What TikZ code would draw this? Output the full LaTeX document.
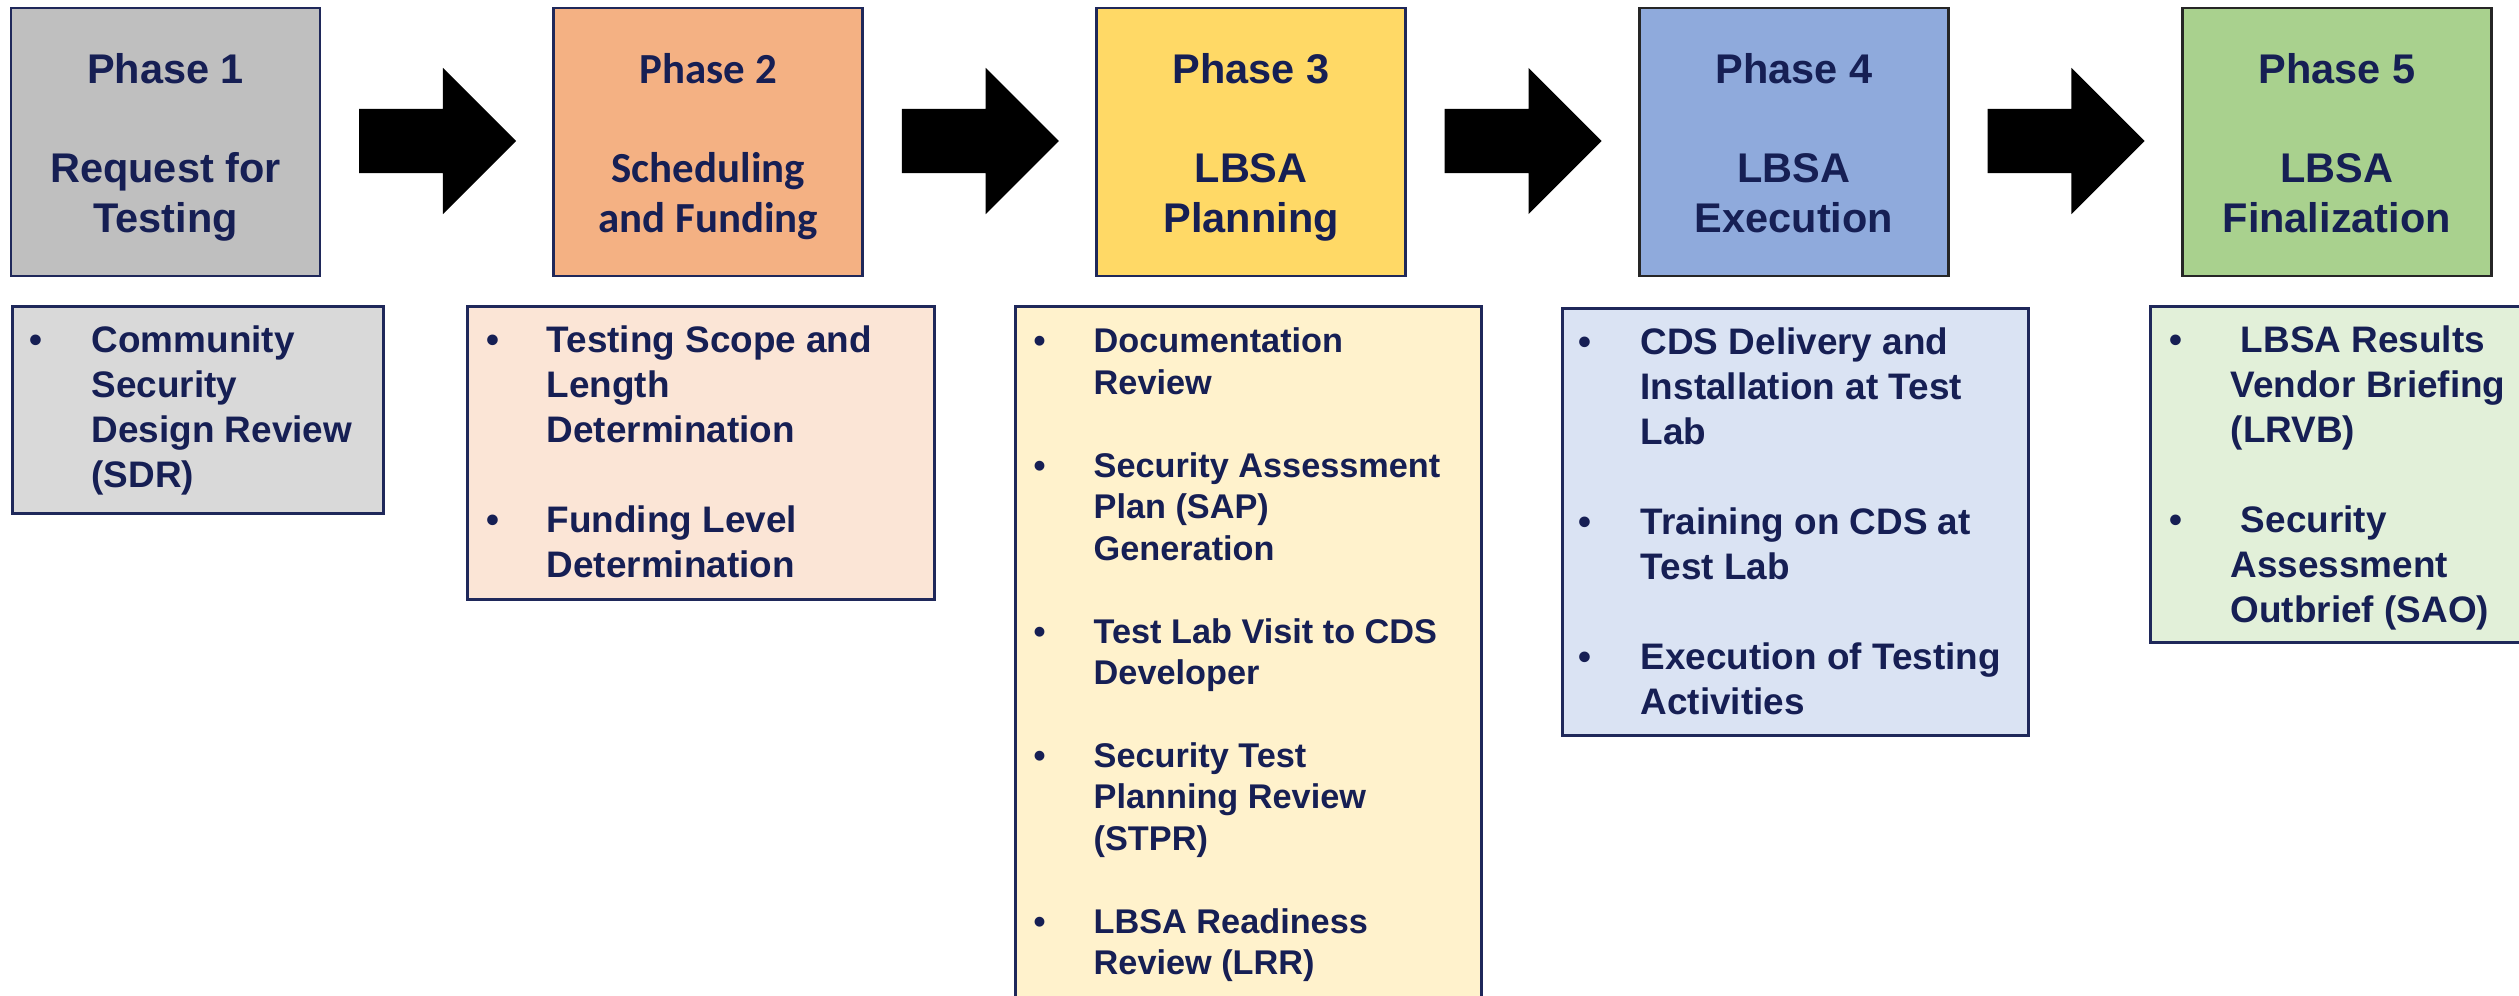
\documentclass[tikz,border=0pt]{standalone}
\usepackage{fontspec}
\setmainfont{Liberation Sans}
\newfontfamily\calfont{Carlito}
\usetikzlibrary{positioning,shapes.arrows}

\definecolor{navytext}{RGB}{22,31,84}
\definecolor{boxline}{RGB}{31,40,90}
\definecolor{grayA}{RGB}{191,191,191}
\definecolor{grayB}{RGB}{217,217,217}
\definecolor{orangeA}{RGB}{244,177,131}
\definecolor{orangeB}{RGB}{251,229,214}
\definecolor{yellowA}{RGB}{255,217,102}
\definecolor{yellowB}{RGB}{255,242,204}
\definecolor{blueA}{RGB}{143,170,220}
\definecolor{blueB}{RGB}{218,227,243}
\definecolor{greenA}{RGB}{169,209,142}
\definecolor{greenB}{RGB}{226,240,217}

% title of a phase box: number, empty line, two lines of name
\newcommand{\phasetext}[3]{\rule{0pt}{11.7pt}#1\\[14.2pt]#2\\#3\rule[-2.6pt]{0pt}{2.6pt}}

\tikzset{
  phase/.style={draw=boxline, line width=0.8pt, minimum width=3.09cm, minimum height=2.68cm,
    align=center, text=navytext, font=\fontsize{11.8}{14.2}\selectfont\bfseries},
  detail/.style={draw=boxline, line width=0.8pt, anchor=north west, minimum width=4.66cm},
  items/.style={anchor=north west, inner sep=0pt, text=navytext,
    font=\fontsize{10.5}{12.8}\selectfont\bfseries},
  blockarrow/.style={single arrow, fill=black, inner xsep=0pt, inner ysep=0.315cm,
    minimum height=1.57cm, single arrow head extend=0.41cm},
}

\begin{document}
\begin{tikzpicture}
\useasboundingbox (0,0) rectangle (25.19,9.95);
\clip (0,0) rectangle (25.19,9.95);

% phases
\node[phase, fill=grayA] (p1) at (1.655,8.53) {\phasetext{Phase 1}{Request for}{Testing}};
\node[phase, fill=orangeA, right=2.31cm of p1, font=\calfont\fontsize{12.2}{14.2}\selectfont\bfseries] (p2) {\phasetext{Phase 2}{Scheduling}{and Funding}};
\node[phase, fill=yellowA, right=2.31cm of p2] (p3) {\phasetext{Phase 3}{LBSA}{Planning}};
\node[phase, fill=blueA, draw=black!85, right=2.31cm of p3] (p4) {\phasetext{Phase 4}{LBSA}{Execution}};
\node[phase, fill=greenA, draw=black!85, right=2.31cm of p4] (p5) {\phasetext{Phase 5}{LBSA}{Finalization}};

\foreach \a/\b in {p1/p2,p2/p3,p3/p4,p4/p5}
    \path (\a.east) -- (\b.west) node[pos=0, blockarrow, anchor=tail, xshift=0.37cm, yshift=0.01cm] (arr\a) {};

% activities under each phase
\node[detail, fill=grayB, minimum width=3.71cm, minimum height=2.07cm] (d1) at (0.11,6.90) {};
\node[detail, fill=orangeB, minimum width=4.67cm, minimum height=2.93cm] (d2) at (4.66,6.90) {};
\node[detail, fill=yellowB, minimum height=7.2cm] (d3) at (10.14,6.90) {};
\node[detail, fill=blueB, minimum height=4.27cm] (d4) at (15.61,6.88) {};
\node[detail, fill=greenB, minimum height=3.36cm] (d5) at (21.49,6.90) {};

\node[items] (t1) at ([xshift=0.18cm,yshift=-0.155cm]d1.north west) {%
\begin{tabular}{@{}p{0.62cm}@{}l@{}}
\textbullet & Community\\
 & Security\\
 & Design Review\\
 & (SDR)
\end{tabular}};

\node[items] (t2) at ([xshift=0.2cm,yshift=-0.155cm]d2.north west) {%
\begin{tabular}{@{}p{0.6cm}@{}l@{}}
\textbullet & Testing Scope and\\
 & Length\\
 & Determination\\
 & \\
\textbullet & Funding Level\\
 & Determination
\end{tabular}};

\node[items, font=\fontsize{9.75}{11.8}\selectfont\bfseries] (t3) at ([xshift=0.19cm,yshift=-0.18cm]d3.north west) {%
\begin{tabular}{@{}p{0.6cm}@{}l@{}}
\textbullet & Documentation\\
 & Review\\
 & \\
\textbullet & Security Assessment\\
 & Plan (SAP)\\
 & Generation\\
 & \\
\textbullet & Test Lab Visit to CDS\\
 & Developer\\
 & \\
\textbullet & Security Test\\
 & Planning Review\\
 & (STPR)\\
 & \\
\textbullet & LBSA Readiness\\
 & Review (LRR)
\end{tabular}};

\node[items] (t4) at ([xshift=0.165cm,yshift=-0.155cm]d4.north west) {%
\begin{tabular}{@{}p{0.625cm}@{}l@{}}
\textbullet & CDS Delivery and\\
 & Installation at Test\\
 & Lab\\
 & \\
\textbullet & Training on CDS at\\
 & Test Lab\\
 & \\
\textbullet & Execution of Testing\\
 & Activities
\end{tabular}};

\node[items] (t5) at ([xshift=0.195cm,yshift=-0.155cm]d5.north west) {%
\begin{tabular}{@{}p{0.615cm}@{}l@{}}
\textbullet & \ LBSA Results\\
 & Vendor Briefing\\
 & (LRVB)\\
 & \\
\textbullet & \ Security\\
 & Assessment\\
 & Outbrief (SAO)
\end{tabular}};
\end{tikzpicture}
\end{document}
